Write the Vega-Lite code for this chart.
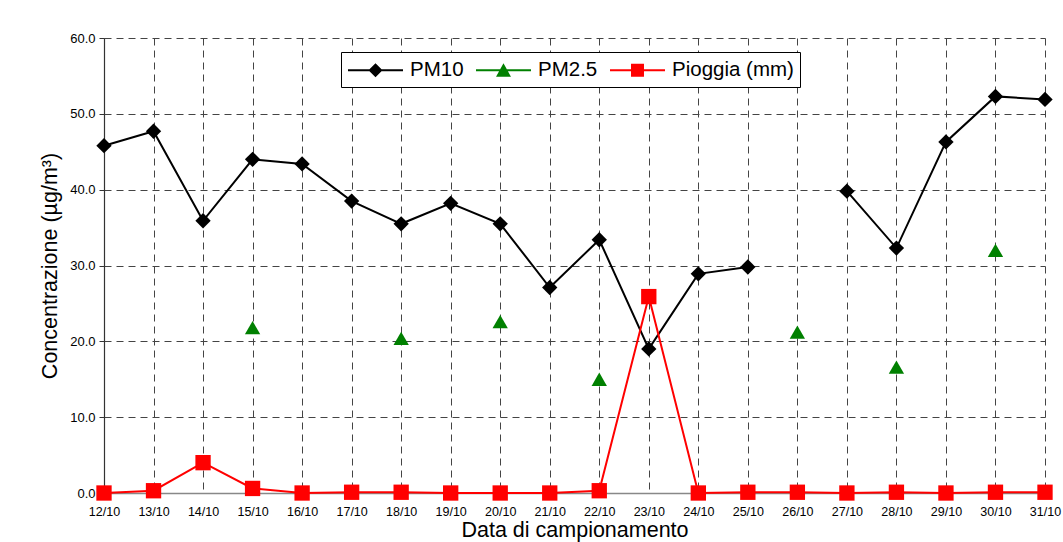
{
  "$schema": "https://vega.github.io/schema/vega-lite/v6.json",
  "width": 941,
  "height": 455,
  "autosize": "none",
  "padding": {"left": 104, "top": 38, "right": 18, "bottom": 49},
  "background": "white",
  "config": {
    "font": "Liberation Sans",
    "view": {"stroke": null},
    "axis": {"labelFont": "Liberation Sans", "titleFont": "Liberation Sans", "labelColor": "#000", "titleColor": "#000", "titleFontWeight": "normal"}
  },
  "data": {
    "values": [
      {"date": "12/10", "series": "PM10", "value": 45.8},
      {"date": "13/10", "series": "PM10", "value": 47.7},
      {"date": "14/10", "series": "PM10", "value": 35.9},
      {"date": "15/10", "series": "PM10", "value": 44.0},
      {"date": "16/10", "series": "PM10", "value": 43.4},
      {"date": "17/10", "series": "PM10", "value": 38.5},
      {"date": "18/10", "series": "PM10", "value": 35.5},
      {"date": "19/10", "series": "PM10", "value": 38.2},
      {"date": "20/10", "series": "PM10", "value": 35.5},
      {"date": "21/10", "series": "PM10", "value": 27.1},
      {"date": "22/10", "series": "PM10", "value": 33.4},
      {"date": "23/10", "series": "PM10", "value": 19.0},
      {"date": "24/10", "series": "PM10", "value": 28.9},
      {"date": "25/10", "series": "PM10", "value": 29.8},
      {"date": "26/10", "series": "PM10", "value": null},
      {"date": "27/10", "series": "PM10", "value": 39.8},
      {"date": "28/10", "series": "PM10", "value": 32.3},
      {"date": "29/10", "series": "PM10", "value": 46.3},
      {"date": "30/10", "series": "PM10", "value": 52.3},
      {"date": "31/10", "series": "PM10", "value": 51.9},
      {"date": "15/10", "series": "PM2.5", "value": 21.8},
      {"date": "18/10", "series": "PM2.5", "value": 20.4},
      {"date": "20/10", "series": "PM2.5", "value": 22.6},
      {"date": "22/10", "series": "PM2.5", "value": 15.0},
      {"date": "26/10", "series": "PM2.5", "value": 21.2},
      {"date": "28/10", "series": "PM2.5", "value": 16.6},
      {"date": "30/10", "series": "PM2.5", "value": 32.0},
      {"date": "12/10", "series": "Pioggia (mm)", "value": 0.0},
      {"date": "13/10", "series": "Pioggia (mm)", "value": 0.3},
      {"date": "14/10", "series": "Pioggia (mm)", "value": 4.0},
      {"date": "15/10", "series": "Pioggia (mm)", "value": 0.6},
      {"date": "16/10", "series": "Pioggia (mm)", "value": 0.0},
      {"date": "17/10", "series": "Pioggia (mm)", "value": 0.1},
      {"date": "18/10", "series": "Pioggia (mm)", "value": 0.1},
      {"date": "19/10", "series": "Pioggia (mm)", "value": 0.0},
      {"date": "20/10", "series": "Pioggia (mm)", "value": 0.0},
      {"date": "21/10", "series": "Pioggia (mm)", "value": 0.0},
      {"date": "22/10", "series": "Pioggia (mm)", "value": 0.3},
      {"date": "23/10", "series": "Pioggia (mm)", "value": 25.9},
      {"date": "24/10", "series": "Pioggia (mm)", "value": 0.0},
      {"date": "25/10", "series": "Pioggia (mm)", "value": 0.1},
      {"date": "26/10", "series": "Pioggia (mm)", "value": 0.1},
      {"date": "27/10", "series": "Pioggia (mm)", "value": 0.0},
      {"date": "28/10", "series": "Pioggia (mm)", "value": 0.1},
      {"date": "29/10", "series": "Pioggia (mm)", "value": 0.0},
      {"date": "30/10", "series": "Pioggia (mm)", "value": 0.1},
      {"date": "31/10", "series": "Pioggia (mm)", "value": 0.1}
    ]
  },
  "encoding": {
    "x": {
      "field": "date", "type": "ordinal", "sort": null,
      "scale": {"type": "point", "padding": 0},
      "axis": {
        "title": "Data di campionamento", "titleFontSize": 21.5, "titlePadding": 2,
        "labelFontSize": 12.5, "labelAngle": 0, "labelPadding": 12, "ticks": false,
        "domainColor": "#888", "domainWidth": 1.5,
        "grid": true, "gridDash": [7, 5], "gridColor": "#444", "gridWidth": 1
      }
    },
    "y": {
      "field": "value", "type": "quantitative",
      "scale": {"domain": [0, 60], "nice": false},
      "axis": {
        "title": "Concentrazione (µg/m³)", "titleFontSize": 21.5, "titlePadding": 8,
        "values": [0, 10, 20, 30, 40, 50, 60], "format": ".1f",
        "labelFontSize": 13, "labelPadding": 4, "tickSize": 5, "tickColor": "#333",
        "domainColor": "#333", "domainWidth": 1.2,
        "grid": true, "gridDash": [7, 5], "gridColor": "#444", "gridWidth": 1
      }
    }
  },
  "resolve": {"scale": {"shape": "independent", "color": "independent"}},
  "layer": [
    {
      "transform": [{"filter": "datum.series !== 'PM2.5'"}],
      "mark": {"type": "line", "strokeWidth": 2},
      "encoding": {
        "color": {
          "field": "series", "type": "nominal",
          "scale": {"domain": ["PM10", "PM2.5", "Pioggia (mm)"], "range": ["#000000", "#008000", "#ff0000"]},
          "legend": null
        }
      }
    },
    {
      "mark": {"type": "point", "filled": true, "opacity": 1, "size": 235},
      "encoding": {
        "color": {
          "field": "series", "type": "nominal",
          "scale": {"domain": ["PM10", "PM2.5", "Pioggia (mm)"], "range": ["#000000", "#008000", "#ff0000"]},
          "legend": null
        },
        "shape": {
          "field": "series", "type": "nominal",
          "scale": {"domain": ["PM10", "PM2.5", "Pioggia (mm)"], "range": ["diamond", "triangle-up", "square"]},
          "legend": null
        }
      }
    },
    {
      "transform": [{"filter": "datum.value > 1000"}],
      "mark": {"type": "point", "filled": true, "opacity": 1},
      "encoding": {
        "color": {
          "field": "series", "type": "nominal",
          "scale": {"domain": ["PM10", "PM2.5", "Pioggia (mm)"], "range": ["#000000", "#008000", "#ff0000"]},
          "legend": {
            "title": null, "orient": "none", "legendX": 237, "legendY": 14,
            "direction": "horizontal", "columns": 3,
            "strokeColor": "#000", "fillColor": "#fff", "padding": 6,
            "labelFontSize": 20.5, "labelFont": "Liberation Sans", "labelColor": "#000", "labelOffset": 39,
            "columnPadding": 11, "symbolSize": 484, "symbolOpacity": 1
          }
        },
        "shape": {
          "field": "series", "type": "nominal",
          "scale": {"domain": ["PM10", "PM2.5", "Pioggia (mm)"], "range": ["M-1,-0.09H4V0.09H-1ZM1.5,-0.64L2.14,0L1.5,0.64L0.86,0Z", "M-1,-0.09H4V0.09H-1ZM1.5,-0.64L2.18,0.6L0.82,0.6Z", "M-1,-0.09H4V0.09H-1ZM0.91,-0.59H2.09V0.59H0.91Z"]},
          "legend": null
        }
      }
    }
  ]
}
